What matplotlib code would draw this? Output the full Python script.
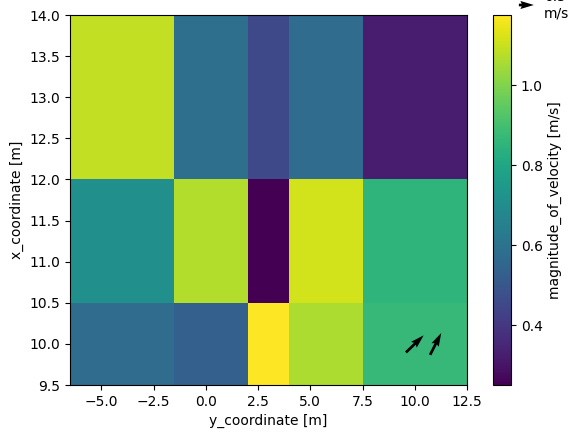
import numpy as np
import matplotlib
matplotlib.use("Agg")
import matplotlib.pyplot as plt

# cell centres (xarray-style coordinates)
y_coord = [-4.0, 1.0, 3.0, 5.0, 10.0]
x_coord = [10.0, 11.0, 13.0]

# magnitude of velocity [m/s], rows follow x_coord
magnitude = [
    [0.575, 0.530, 1.175, 1.060, 0.870],
    [0.710, 1.070, 0.250, 1.110, 0.850],
    [1.090, 0.585, 0.454, 0.575, 0.324],
]

# quiver samples
q_y = [10.0, 11.0]
q_x = [10.0, 10.0]
q_u = [0.59, 0.37]
q_v = [0.57, 0.73]
key_value = 0.5
key_units = "m/s"


def edges(c):
    c = np.asarray(c, dtype=float)
    mid = (c[1:] + c[:-1]) / 2
    first = c[0] - (mid[0] - c[0])
    last = c[-1] + (c[-1] - mid[-1])
    return np.concatenate([[first], mid, [last]])


fig = plt.figure(figsize=(5.71, 4.38), dpi=100)
ax = fig.add_axes([0.1226, 0.121, 0.6953, 0.8447])
cax = fig.add_axes([0.8634, 0.121, 0.0315, 0.8447])

mesh = ax.pcolormesh(edges(y_coord), edges(x_coord), np.array(magnitude),
                     cmap="viridis", vmin=0.25, vmax=1.175)
cb = fig.colorbar(mesh, cax=cax)
cb.set_label("magnitude_of_velocity [m/s]")
cb.set_ticks([0.4, 0.6, 0.8, 1.0])

q = ax.quiver(q_y, q_x, q_u, q_v, pivot="middle",
              scale_units="dots", scale=0.5 / 15, width=0.0068)
ax.quiverkey(q, X=0.935, Y=0.9886, U=key_value,
             label=f"{key_value}\n{key_units}", labelpos="E",
             coordinates="figure")

ax.set_xlabel("y_coordinate [m]")
ax.set_ylabel("x_coordinate [m]")
ax.set_xticks(np.arange(-5, 12.6, 2.5))
ax.set_yticks(np.arange(9.5, 14.01, 0.5))

fig.savefig("out.png", dpi=100)
